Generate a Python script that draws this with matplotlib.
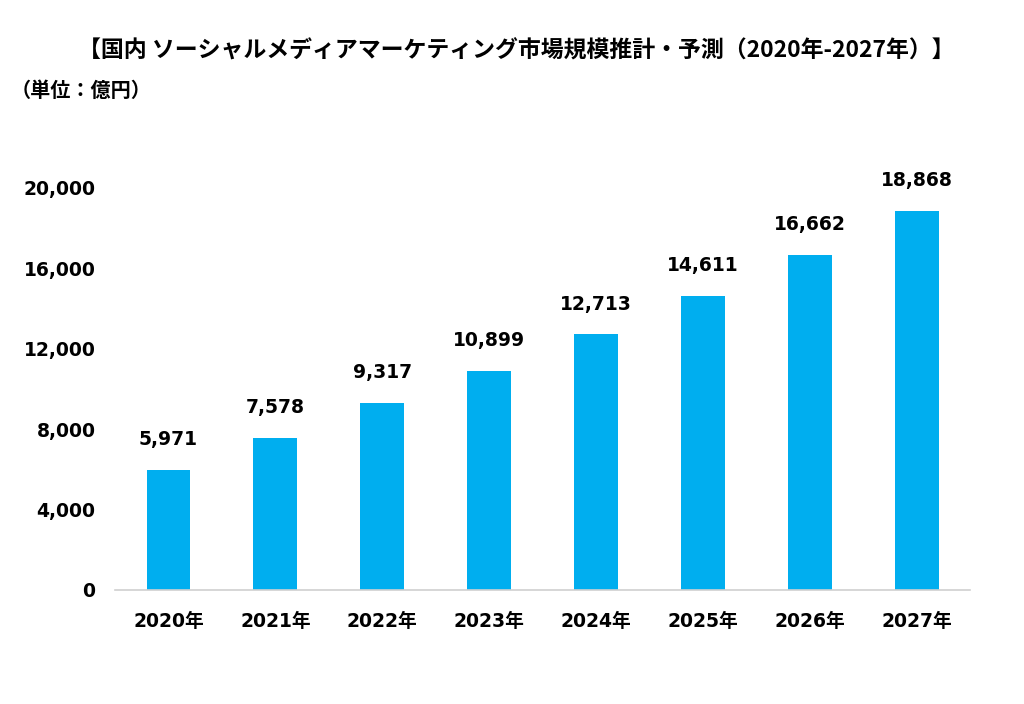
import matplotlib.pyplot as plt

plt.rcParams['font.family'] = ['DejaVu Sans', 'Noto Sans CJK JP']

years = ['2020年', '2021年', '2022年', '2023年', '2024年', '2025年', '2026年', '2027年']
values = [5971, 7578, 9317, 10899, 12713, 14611, 16662, 18868]
yticks = [0, 4000, 8000, 12000, 16000, 20000]

BAR_COLOR = '#00AEEF'

fig = plt.figure(figsize=(10.24, 7.04), dpi=100)
ax = fig.add_axes([0.1123, 0.162, 0.835, 0.571])

x = range(len(years))
bars = ax.bar(x, values, width=0.41, color=BAR_COLOR)

for xi, v in zip(x, values):
    ax.annotate(f'{v:,}', (xi, v), xytext=(0, 15), textcoords='offset points',
                ha='center', va='bottom', fontsize=13.5, fontweight='bold',
                annotation_clip=False)

ax.set_xlim(-0.5, len(years) - 0.5)
ax.set_ylim(0, 20000)
ax.set_yticks(yticks)
ax.set_yticklabels([f'{t:,}' for t in yticks], fontsize=13.5, fontweight='bold')
ax.set_xticks(list(x))
ax.set_xticklabels(years, fontsize=13.5, fontweight='bold')
ax.tick_params(axis='y', length=0, pad=14)
ax.tick_params(axis='x', length=0, pad=16)

for s in ['top', 'right', 'left']:
    ax.spines[s].set_visible(False)
ax.spines['bottom'].set_color('#d0d0d0')
ax.spines['bottom'].set_linewidth(1.2)

fig.text(0.504, 0.928, '【国内 ソーシャルメディアマーケティング市場規模推計・予測（2020年-2027年）】',
         ha='center', va='center', fontsize=16.5, fontweight='bold',
         family=['Noto Sans CJK JP', 'DejaVu Sans'])
fig.text(0.010, 0.872, '（単位：億円）', ha='left', va='center', fontsize=14.5,
         fontweight='bold', family=['Noto Sans CJK JP', 'DejaVu Sans'])

fig.savefig('out.png', dpi=100, facecolor='white')
